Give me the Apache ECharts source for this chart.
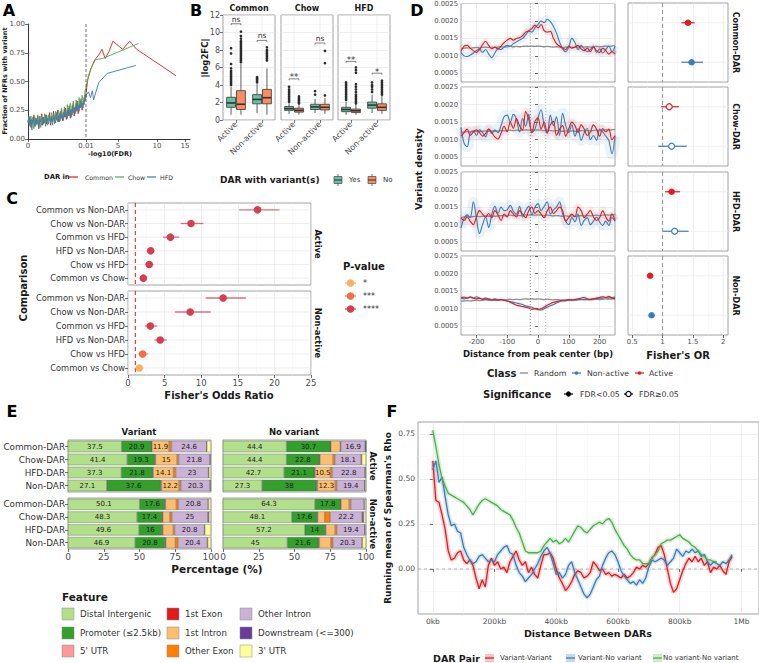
<!DOCTYPE html>
<html>
<head>
<meta charset="utf-8">
<title>DAR variant figure</title>
<script src="https://cdn.jsdelivr.net/npm/echarts@6/dist/echarts.min.js"></script>
<style>
html,body{margin:0;padding:0;background:#ffffff;}
#chart{width:759px;height:663px;}
</style>
</head>
<body>
<div id="chart"></div>
<script>
// ======================= DATA =======================
// ---- Panel A ----
const aTickValues = [0, 0.01, 5, 10, 15];
const aTickLabels = ['0', '0.01', '5', '10', '15'];
const aLegend = ['Common', 'Chow', 'HFD'];
const aNoiseCommon = [0.16,0.12,0.19,0.10,0.17,0.14,0.21,0.11,0.18,0.13,
 0.20,0.09,0.17,0.15,0.22,0.12,0.19,0.14,0.21,0.13,
 0.18,0.16,0.23,0.12,0.20,0.15,0.24,0.14,0.21,0.17,
 0.25,0.15,0.22,0.18,0.26,0.16,0.23,0.19,0.27,0.17,
 0.25,0.20,0.29,0.18,0.26,0.22,0.31,0.20,0.28,0.24,
 0.33,0.22,0.30,0.27,0.35,0.25,0.33,0.30,0.38,0.36];
const aNoiseChow = [0.14,0.18,0.11,0.20,0.13,0.16,0.09,0.19,0.15,0.12,
 0.21,0.14,0.17,0.10,0.19,0.16,0.13,0.22,0.15,0.18,
 0.12,0.21,0.17,0.14,0.23,0.16,0.19,0.13,0.24,0.18,
 0.15,0.25,0.19,0.16,0.27,0.20,0.17,0.28,0.21,0.19,
 0.30,0.22,0.20,0.31,0.24,0.21,0.33,0.26,0.23,0.34,
 0.28,0.25,0.36,0.30,0.27,0.38,0.33,0.30,0.42,0.45];
const aNoiseHFD = [0.15,0.20,0.12,0.17,0.08,0.19,0.14,0.11,0.18,0.13,
 0.16,0.10,0.20,0.15,0.12,0.19,0.14,0.17,0.11,0.21,
 0.16,0.13,0.20,0.15,0.18,0.12,0.22,0.17,0.14,0.23,
 0.16,0.20,0.15,0.24,0.18,0.21,0.16,0.26,0.19,0.23,
 0.18,0.27,0.21,0.25,0.19,0.29,0.23,0.27,0.22,0.31,
 0.25,0.29,0.24,0.33,0.28,0.31,0.27,0.36,0.33,0.38];
const aTailCommon = [[0.01,0.40],[0.3,0.52],[0.7,0.60],[1.4,0.69],[2.0,0.73],[2.5,0.78],[3.0,0.70],[3.6,0.76],[4.2,0.85],[5.6,0.78],[6.5,0.85],[7.4,0.78],[13.4,0.55]];
const aTailChow = [[0.01,0.45],[0.4,0.55],[0.9,0.63],[1.5,0.69],[2.6,0.70],[7.6,0.83]];
const aTailHFD = [[0.01,0.38],[0.4,0.41],[0.7,0.36],[1.0,0.42],[1.2,0.34],[1.5,0.40],[2.0,0.49],[3.3,0.57],[7.3,0.64]];

// ---- Panel B ---- [facet][class] = [lowerWhisker, Q1, median, Q3, upperWhisker]
const bFacets = ['Common', 'Chow', 'HFD'];
const bClasses = ['Active', 'Non-active'];
const bVariantGroups = ['Yes', 'No'];
const bYesStats = [
 [[0.6,1.45,1.95,2.6,3.8],[0.8,1.85,2.35,2.9,4.1]],
 [[0.7,1.1,1.3,1.55,2.0],[0.8,1.2,1.5,1.8,2.4]],
 [[0.6,0.95,1.2,1.45,2.1],[0.8,1.35,1.7,2.05,2.9]]];
const bNoStats = [
 [[0.6,1.2,1.8,3.35,6.4],[0.6,1.85,2.55,3.5,5.9]],
 [[0.6,0.9,1.1,1.35,1.8],[0.7,1.15,1.45,1.8,2.5]],
 [[0.6,0.85,1.05,1.25,1.8],[0.7,1.1,1.45,1.85,2.8]]];
const bYesOutliers = [
 [[4.0,4.2,4.4,4.6,4.8,5.0,5.2,5.4,5.6,5.9,6.4,7.6,8.2],[4.3,4.45,4.6,4.75,4.9]],
 [[2.1,2.3,2.5,2.7,2.9,3.1,3.3,3.5,3.8],[2.9,3.3]],
 [[2.3,2.5,2.7,2.9,3.1,3.3,3.5,3.7,3.9,4.1,4.3],[3.2,3.5,3.8,4.0,4.3]]];
const bNoOutliers = [
 [[6.6,6.8,7.0,7.2,7.4,7.6,7.8,8.0,8.2,8.4,8.6,8.8,9.0,9.3,9.6,10.1],[6.8,7.0,7.2,7.4,7.6,7.8,8.0,8.3]],
 [[1.9,2.05,2.2,2.35,2.5,2.7],[2.8,6.5,7.9]],
 [[1.9,2.1,2.3,2.5,2.7,2.9,3.2,3.5,3.8,4.1,5.4,5.7,6.0],[2.9,3.1,3.3,3.5,3.7,3.9,4.1,4.3,4.5]]];
const bSigY = [[11.0,9.1],[4.7,8.8],[6.7,5.35]];
const bSigLabels = [['ns','ns'],['**','ns'],['**','*']];

// ---- Panel C ----
const cComparisons = ['Common vs Non-DAR','Chow vs Non-DAR','Common vs HFD','HFD vs Non-DAR','Chow vs HFD','Common vs Chow'];
const cActiveOR = [17.7, 8.6, 5.8, 3.1, 2.9, 2.1];
const cActiveLo = [15.2, 7.2, 4.8, 2.55, 2.4, 1.6];
const cActiveHi = [20.7, 10.3, 7.0, 3.6, 3.5, 2.5];
const cActiveP = ['****','****','****','****','****','****'];
const cNonActiveOR = [13.0, 8.5, 3.05, 4.4, 2.0, 1.55];
const cNonActiveLo = [10.6, 6.4, 2.3, 3.6, 1.4, 1.0];
const cNonActiveHi = [16.1, 11.3, 4.0, 5.3, 2.75, 2.1];
const cNonActiveP = ['****','****','****','****','***','*'];
const cPLevels = ['*', '***', '****'];

// ---- Panel D ----
const dPositionBp = [-250,-240,-230,-220,-210,-200,-190,-180,-170,-160,-150,-140,-130,-120,-110,-100,-90,-80,-70,-60,-50,-40,-30,-20,-10,0,10,20,30,40,50,60,70,80,90,100,110,120,130,140,150,160,170,180,190,200,210,220,230,240,250];
const dFacets = ['Common-DAR','Chow-DAR','HFD-DAR','Non-DAR'];
const dClasses = ['Random','Non-active','Active'];
const dRandom = [0.00121,0.00122,0.00123,0.00122,0.00123,0.00124,0.00123,0.00124,0.00125,0.00124,
 0.00125,0.00124,0.00125,0.00126,0.00125,0.00126,0.00127,0.00126,0.00127,0.00126,
 0.00127,0.00128,0.00127,0.00128,0.00127,0.00128,0.00127,0.00126,0.00127,0.00126,
 0.00125,0.00126,0.00125,0.00124,0.00125,0.00124,0.00125,0.00124,0.00125,0.00126,
 0.00125,0.00126,0.00125,0.00126,0.00127,0.00126,0.00127,0.00128,0.00127,0.00128,
 0.00129];
const dNonActive = [
 [0.00110,0.00100,0.00098,0.00102,0.00108,0.00115,0.00120,0.00110,0.00118,0.00105,
  0.00095,0.00108,0.00120,0.00118,0.00125,0.00130,0.00128,0.00135,0.00140,0.00145,
  0.00150,0.00160,0.00170,0.00168,0.00180,0.00190,0.00200,0.00195,0.00205,0.00198,
  0.00185,0.00165,0.00140,0.00120,0.00112,0.00125,0.00150,0.00138,0.00118,0.00130,
  0.00120,0.00112,0.00118,0.00128,0.00110,0.00120,0.00108,0.00118,0.00128,0.00112,
  0.00128],
 [0.00135,0.00090,0.00080,0.00120,0.00125,0.00112,0.00128,0.00120,0.00108,0.00130,
  0.00118,0.00128,0.00120,0.00140,0.00165,0.00170,0.00150,0.00172,0.00158,0.00122,
  0.00160,0.00138,0.00172,0.00120,0.00130,0.00162,0.00185,0.00140,0.00118,0.00170,
  0.00140,0.00165,0.00112,0.00175,0.00140,0.00120,0.00142,0.00110,0.00132,0.00098,
  0.00120,0.00132,0.00100,0.00112,0.00098,0.00130,0.00122,0.00110,0.00098,0.00060,
  0.00110],
 [0.00090,0.00118,0.00128,0.00120,0.00165,0.00120,0.00075,0.00100,0.00122,0.00092,
  0.00130,0.00152,0.00132,0.00150,0.00140,0.00142,0.00155,0.00138,0.00130,0.00152,
  0.00122,0.00140,0.00152,0.00128,0.00150,0.00160,0.00140,0.00152,0.00165,0.00130,
  0.00142,0.00150,0.00165,0.00130,0.00110,0.00100,0.00120,0.00108,0.00130,0.00098,
  0.00112,0.00120,0.00100,0.00110,0.00122,0.00108,0.00098,0.00110,0.00098,0.00120,
  0.00110],
 [0.00130,0.00128,0.00130,0.00132,0.00130,0.00134,0.00130,0.00128,0.00130,0.00128,
  0.00126,0.00128,0.00126,0.00125,0.00124,0.00122,0.00120,0.00118,0.00116,0.00114,
  0.00112,0.00108,0.00106,0.00104,0.00100,0.00098,0.00096,0.00100,0.00104,0.00108,
  0.00112,0.00116,0.00120,0.00122,0.00122,0.00124,0.00124,0.00125,0.00126,0.00126,
  0.00127,0.00126,0.00127,0.00128,0.00128,0.00130,0.00130,0.00132,0.00130,0.00132,
  0.00133]];
const dActive = [
 [0.00112,0.00128,0.00130,0.00122,0.00115,0.00110,0.00118,0.00132,0.00142,0.00130,
  0.00120,0.00125,0.00120,0.00128,0.00138,0.00145,0.00150,0.00145,0.00150,0.00152,
  0.00158,0.00168,0.00172,0.00178,0.00188,0.00180,0.00190,0.00172,0.00168,0.00170,
  0.00150,0.00135,0.00128,0.00122,0.00118,0.00128,0.00122,0.00125,0.00130,0.00120,
  0.00115,0.00122,0.00112,0.00125,0.00115,0.00110,0.00122,0.00115,0.00105,0.00112,
  0.00105],
 [0.00110,0.00120,0.00130,0.00112,0.00122,0.00128,0.00120,0.00110,0.00118,0.00130,
  0.00120,0.00108,0.00102,0.00118,0.00138,0.00122,0.00150,0.00132,0.00160,0.00140,
  0.00128,0.00180,0.00158,0.00120,0.00152,0.00162,0.00130,0.00150,0.00120,0.00142,
  0.00152,0.00112,0.00130,0.00140,0.00110,0.00132,0.00150,0.00140,0.00120,0.00142,
  0.00130,0.00112,0.00122,0.00142,0.00130,0.00110,0.00132,0.00122,0.00130,0.00100,
  0.00112],
 [0.00120,0.00112,0.00122,0.00110,0.00100,0.00122,0.00140,0.00130,0.00122,0.00132,
  0.00120,0.00140,0.00128,0.00112,0.00130,0.00122,0.00140,0.00130,0.00122,0.00140,
  0.00130,0.00120,0.00140,0.00150,0.00132,0.00140,0.00130,0.00120,0.00140,0.00150,
  0.00132,0.00140,0.00150,0.00140,0.00110,0.00120,0.00130,0.00122,0.00150,0.00140,
  0.00120,0.00130,0.00140,0.00122,0.00112,0.00120,0.00140,0.00122,0.00110,0.00130,
  0.00112],
 [0.00132,0.00133,0.00130,0.00134,0.00130,0.00128,0.00130,0.00126,0.00128,0.00126,
  0.00124,0.00126,0.00124,0.00126,0.00124,0.00122,0.00118,0.00114,0.00110,0.00108,
  0.00106,0.00104,0.00102,0.00098,0.00100,0.00098,0.00100,0.00104,0.00110,0.00114,
  0.00118,0.00120,0.00122,0.00124,0.00124,0.00126,0.00125,0.00126,0.00128,0.00130,
  0.00132,0.00128,0.00126,0.00128,0.00130,0.00132,0.00134,0.00132,0.00135,0.00130,
  0.00128]];
const dOrActive = [1.42, 1.11, 1.15, 0.795];
const dOrActiveLo = [1.31, 0.975, 1.04, 0.785];
const dOrActiveHi = [1.53, 1.27, 1.29, 0.805];
const dOrActiveSig = [true, false, true, true];
const dOrNonActive = [1.48, 1.15, 1.20, 0.82];
const dOrNonActiveLo = [1.31, 0.93, 1.01, 0.81];
const dOrNonActiveHi = [1.67, 1.40, 1.43, 0.83];
const dOrNonActiveSig = [true, false, false, true];

// ---- Panel E ---- rows follow eDARs, columns follow eFeatures
const eDARs = ['Common-DAR','Chow-DAR','HFD-DAR','Non-DAR'];
const eFeatures = ['Distal Intergenic','Promoter (\u22642.5kb)',"5' UTR",'1st Exon','1st Intron','Other Exon','Other Intron','Downstream (<=300)',"3' UTR"];
const eVariantActive = [
 [37.5,20.9,0.1,0.2,11.9,1.8,24.6,0.1,2.9],
 [41.4,19.3,0.2,0.3,15.0,1.2,21.8,0.3,0.5],
 [37.3,21.8,0.2,0.3,14.1,1.6,23.0,0.2,1.5],
 [27.1,37.6,0.3,0.4,12.2,1.4,20.3,0.2,0.5]];
const eNoVariantActive = [
 [44.4,30.7,0.1,0.2,6.6,0.5,16.9,0.6,0.0],
 [44.4,22.8,0.2,0.5,9.0,1.5,18.1,0.5,3.0],
 [42.7,21.1,0.3,0.4,10.5,1.5,22.8,0.2,0.5],
 [27.3,38.0,0.3,0.5,12.3,1.2,19.4,0.2,0.8]];
const eVariantNonActive = [
 [50.1,17.6,0.2,0.3,7.5,1.5,20.8,0.2,1.8],
 [48.3,17.4,0.2,0.5,4.8,1.5,25.0,0.8,1.5],
 [49.6,16.0,0.3,0.5,7.2,1.0,20.8,0.3,4.3],
 [46.9,20.8,0.3,0.5,6.5,2.0,20.4,0.3,2.3]];
const eNoVariantNonActive = [
 [64.3,17.8,0.2,0.3,5.6,1.2,9.3,0.3,1.0],
 [48.1,17.6,0.2,0.3,4.9,3.9,22.2,1.2,1.6],
 [57.2,14.0,0.3,0.4,6.5,1.3,19.4,0.2,0.7],
 [45.0,21.6,0.3,0.5,8.0,1.5,20.3,0.3,2.5]];

// ---- Panel F ----
const fDistanceKb = [0,10,20,30,40,50,60,70,80,90,
 100,110,120,130,140,150,160,170,180,190,
 200,210,220,230,240,250,260,270,280,290,
 300,310,320,330,340,350,360,370,380,390,
 400,410,420,430,440,450,460,470,480,490,
 500,510,520,530,540,550,560,570,580,590,
 600,610,620,630,640,650,660,670,680,690,
 700,710,720,730,740,750,760,770,780,790,
 800,810,820,830,840,850,860,870,880,890,
 900,910,920,930,940,950,960,970];
const fPairs = ['Variant-Variant','Variant-No variant','No variant-No variant'];
const fVariantVariant = [0.60,0.38,0.37,0.30,0.22,0.10,0.05,0.06,0.09,0.10,
 0.05,0.03,0.05,0.02,-0.05,-0.11,-0.06,-0.10,0.02,0.06,
 0.02,0.04,0.00,0.01,-0.02,0.04,0.07,0.10,0.05,0.02,
 0.04,-0.02,0.01,-0.03,-0.05,0.02,0.08,0.08,0.09,0.06,
 0.00,-0.05,-0.08,-0.12,-0.10,-0.07,-0.03,-0.01,-0.02,-0.05,
 -0.04,-0.02,0.04,0.02,-0.01,0.00,-0.03,-0.02,-0.04,-0.03,
 -0.04,-0.05,-0.03,-0.05,-0.04,-0.02,0.01,0.00,0.02,0.01,
 0.03,0.06,0.08,0.12,0.13,0.08,0.00,-0.08,-0.13,-0.11,
 -0.06,-0.01,0.03,0.06,0.04,0.07,0.04,0.06,0.02,0.04,
 -0.02,0.01,0.00,0.02,-0.01,-0.03,0.04,0.07];
const fVariantNoVariant = [0.55,0.60,0.48,0.51,0.40,0.30,0.24,0.25,0.21,0.20,
 0.12,0.08,0.05,0.03,0.04,0.07,0.08,0.06,0.04,0.05,
 0.04,0.08,0.10,0.12,0.13,0.09,0.08,0.02,-0.02,-0.04,
 -0.07,-0.05,-0.03,0.00,0.03,0.07,0.10,0.12,0.09,0.03,
 -0.03,-0.02,-0.05,-0.03,0.02,0.04,-0.02,-0.06,-0.10,-0.14,
 -0.16,-0.14,-0.10,-0.06,-0.04,0.02,0.06,0.09,0.10,0.08,
 0.04,-0.01,-0.04,-0.06,-0.08,-0.07,-0.09,-0.06,-0.08,-0.05,
 0.01,0.05,0.04,0.05,0.06,0.05,0.02,0.04,0.06,0.11,
 0.09,0.07,0.10,0.09,0.11,0.09,0.10,0.07,0.08,0.04,
 0.02,0.04,0.03,0.02,0.04,0.03,0.05,0.08];
const fNoVariantNoVariant = [0.77,0.68,0.58,0.50,0.46,0.42,0.41,0.40,0.39,0.38,
 0.37,0.35,0.33,0.30,0.33,0.36,0.38,0.39,0.38,0.37,
 0.36,0.35,0.33,0.32,0.31,0.30,0.27,0.23,0.20,0.15,
 0.10,0.09,0.09,0.09,0.09,0.10,0.13,0.15,0.17,0.15,
 0.16,0.14,0.15,0.17,0.15,0.18,0.21,0.24,0.23,0.21,
 0.20,0.22,0.24,0.25,0.26,0.25,0.27,0.28,0.26,0.22,
 0.19,0.16,0.13,0.11,0.08,0.06,0.05,0.05,0.03,0.03,
 0.03,0.06,0.08,0.10,0.14,0.15,0.16,0.16,0.17,0.18,
 0.19,0.17,0.16,0.15,0.13,0.12,0.10,0.08,0.07,0.05,
 0.05,0.04,0.04];

// ======================= CHART =======================
const FF = 'DejaVu Sans';
const fontStr = (size, bold) => (bold ? 'bold ' : '') + size + 'px "DejaVu Sans", sans-serif';
const RED = '#e41a1c', BLUE = '#377eb8', GREEN = '#4daf4a';
const BOX_COLORS = ['#66c2a5', '#fc8d62'];
const P_COLORS = ['#fdae61', '#f46d43', '#d53e4f'];
const E_COLORS = ['#b2df8a','#33a02c','#fb9a99','#e31a1c','#fdbf6f','#ff7f00','#cab2d6','#6a3d9a','#ffff99'];

const grid = [], xAxis = [], yAxis = [], series = [], gfx = [];
const BORDER = {show:true, borderColor:'#8c8c8c', borderWidth:0.8, backgroundColor:'rgba(255,255,255,0)'};
function addGrid(pos, bordered) {
  grid.push(Object.assign({containLabel:false}, pos, bordered ? BORDER : {show:false}));
  return grid.length - 1;
}
function label(size, show, extra) {
  return Object.assign({show: show !== false, fontSize:size, color:'#4d4d4d', fontFamily:FF, margin:3}, extra || {});
}
function tick(show, extra) {
  return Object.assign({show: show !== false, length:3, lineStyle:{color:'#333333', width:0.7}}, extra || {});
}
const SPLIT = {show:true, lineStyle:{color:'#e6e6e6', width:0.7}};
const MINOR = {show:true, lineStyle:{color:'#f3f3f3', width:0.5}};
const NOSPLIT = {show:false};
const NOLINE = {show:false};

function T(str, x, y, o) {
  o = o || {};
  const al = o.align || 'center', va = o.valign || 'middle';
  gfx.push({type:'text', x:x, y:y, rotation:o.rot || 0, z:100, silent:true,
    style:{text:str, fill:o.color || '#1a1a1a', font:fontStr(o.size || 9, o.bold),
      textAlign:al, textVerticalAlign:va, align:al, verticalAlign:va}});
}
function L(x1, y1, x2, y2, color, w, dash) {
  gfx.push({type:'line', z:100, silent:true, shape:{x1:x1, y1:y1, x2:x2, y2:y2}, style:{stroke:color, lineWidth:w || 1, lineDash:dash || null}});
}
function Circ(cx, cy, r, fill, stroke, w) {
  gfx.push({type:'circle', z:101, silent:true, shape:{cx:cx, cy:cy, r:r}, style:{fill:fill, stroke:stroke || null, lineWidth:w || 0}});
}
function Rect(x, y, w, h, fill, stroke, lw) {
  gfx.push({type:'rect', z:100, silent:true, shape:{x:x, y:y, width:w, height:h}, style:{fill:fill, stroke:stroke || null, lineWidth:lw || 0}});
}
function vLine(gi, xv, yref, style, z) {
  series.push({type:'custom', xAxisIndex:gi, yAxisIndex:gi, silent:true, z:z || 1, data:[[xv, yref]],
    renderItem:function (p, api) {
      const cs = p.coordSys; const x = api.coord([api.value(0), api.value(1)])[0];
      return {type:'line', shape:{x1:x, y1:cs.y, x2:x, y2:cs.y + cs.height}, style:style};
    }});
}
function hLine(gi, xref, yv, style, z) {
  series.push({type:'custom', xAxisIndex:gi, yAxisIndex:gi, silent:true, z:z || 1, data:[[xref, yv]],
    renderItem:function (p, api) {
      const cs = p.coordSys; const y = api.coord([api.value(0), api.value(1)])[1];
      return {type:'line', shape:{x1:cs.x, y1:y, x2:cs.x + cs.width, y2:y}, style:style};
    }});
}

// ---------- Panel A ----------
const A_DISP = [0, 58, 90, 129, 157];
function aPos(v) {
  const b = aTickValues, d = A_DISP;
  for (let i = 1; i < b.length; i++) if (v <= b[i]) return d[i-1] + (v - b[i-1]) / (b[i] - b[i-1]) * (d[i] - d[i-1]);
  const n = b.length; return d[n-1] + (v - b[n-1]) / (b[n-1] - b[n-2]) * (d[n-1] - d[n-2]);
}
const gA = addGrid({left:28, top:24, width:162, height:115}, false);
xAxis.push({gridIndex:gA, type:'value', min:0, max:162,
  axisLine:{show:true, lineStyle:{color:'#000', width:0.8}},
  axisTick:tick(true, {customValues:A_DISP}),
  axisLabel:label(7, true, {customValues:A_DISP, formatter:function (v) { const i = A_DISP.indexOf(v); return i >= 0 ? aTickLabels[i] : ''; }}),
  splitLine:NOSPLIT});
yAxis.push({gridIndex:gA, type:'value', min:0, max:1, interval:0.25,
  axisLine:{show:true, lineStyle:{color:'#000', width:0.8}}, axisTick:tick(),
  axisLabel:label(7, true, {formatter:function (v) { return v.toFixed(2); }}), splitLine:NOSPLIT});
[[aNoiseCommon, aTailCommon, RED], [aNoiseChow, aTailChow, GREEN], [aNoiseHFD, aTailHFD, BLUE]].forEach(function (s, k) {
  const noise = s[0], tail = s[1];
  const pts = noise.map(function (y, i) { return [aPos(i / (noise.length - 1) * 0.01), y]; })
    .concat(tail.map(function (p) { return [aPos(p[0]), p[1]]; }));
  series.push({type:'line', name:aLegend[k], xAxisIndex:gA, yAxisIndex:gA, data:pts, showSymbol:false, silent:true, z:3,
    lineStyle:{color:s[2], width:0.9}});
});
vLine(gA, aPos(0.01), 0.5, {stroke:'#333', lineWidth:0.7, lineDash:[3,2]}, 4);
T('-log10(FDR)', 110, 154, {bold:true, size:6.5});
T('Fraction of NFRs with variant', 5, 81, {bold:true, size:6.5, rot:Math.PI / 2});
T('DAR in', 44, 177, {bold:true, size:6.8, align:'left'});
[[RED, 69, 85], [GREEN, 115, 128], [BLUE, 147, 160]].forEach(function (l, k) {
  L(l[1], 177, l[1] + 9, 177, l[0], 1.2);
  T(aLegend[k], l[2], 177, {size:6.2, align:'left', color:'#333'});
});

// ---------- Panel B ----------
const B_LEFTS = [223, 281, 338];
function boxRender(g) {
  return function (p, api) {
    const c = api.value(0); const band = api.size([1, 0])[0];
    const x = api.coord([c, 0])[0] + (g === 0 ? -1 : 1) * band * 0.19; const w = band * 0.34;
    const y = function (i) { return api.coord([c, api.value(i)])[1]; };
    const ls = {stroke:'#333', lineWidth:0.8};
    return {type:'group', children:[
      {type:'line', shape:{x1:x, y1:y(5), x2:x, y2:y(4)}, style:ls},
      {type:'line', shape:{x1:x, y1:y(2), x2:x, y2:y(1)}, style:ls},
      {type:'rect', shape:{x:x - w / 2, y:y(4), width:w, height:y(2) - y(4)}, style:{fill:BOX_COLORS[g], stroke:'#333', lineWidth:0.8}},
      {type:'line', shape:{x1:x - w / 2, y1:y(3), x2:x + w / 2, y2:y(3)}, style:{stroke:'#333', lineWidth:1.6}}
    ]};
  };
}
function outRender(g) {
  return function (p, api) {
    const c = api.value(0); const band = api.size([1, 0])[0];
    const pt = api.coord([c, api.value(1)]);
    return {type:'circle', shape:{cx:pt[0] + (g === 0 ? -1 : 1) * band * 0.19, cy:pt[1], r:1.35}, style:{fill:'#2b2b2b'}};
  };
}
bFacets.forEach(function (fname, fi) {
  const gi = addGrid({left:B_LEFTS[fi], top:15, width:52, height:105}, true);
  xAxis.push({gridIndex:gi, type:'category', data:bClasses, axisLine:NOLINE,
    axisTick:tick(true, {alignWithLabel:true}), axisLabel:label(8, true, {rotate:45, interval:0}), splitLine:NOSPLIT});
  yAxis.push({gridIndex:gi, type:'value', min:0, max:12, interval:2, axisLine:NOLINE,
    axisTick:tick(fi === 0), axisLabel:label(8, fi === 0), splitLine:SPLIT,
    minorTick:{show:false, splitNumber:2}, minorSplitLine:MINOR});
  bClasses.forEach(function (_, ci) { vLine(gi, ci, 0, {stroke:'#e6e6e6', lineWidth:0.7}, 1); });
  [[bYesStats, bYesOutliers, 0], [bNoStats, bNoOutliers, 1]].forEach(function (s) {
    const st = s[0], out = s[1], g = s[2];
    series.push({type:'custom', name:bVariantGroups[g], xAxisIndex:gi, yAxisIndex:gi, z:3, silent:true,
      data:st[fi].map(function (v, ci) { return [ci].concat(v); }), renderItem:boxRender(g)});
    const od = [];
    out[fi].forEach(function (arr, ci) { arr.forEach(function (v) { od.push([ci, v]); }); });
    series.push({type:'custom', xAxisIndex:gi, yAxisIndex:gi, z:4, silent:true, data:od, renderItem:outRender(g)});
  });
  series.push({type:'custom', xAxisIndex:gi, yAxisIndex:gi, z:5, silent:true,
    data:bSigY[fi].map(function (y, ci) { return [ci, y]; }),
    renderItem:function (p, api) {
      const c = api.value(0); const band = api.size([1, 0])[0]; const pt = api.coord([c, api.value(1)]);
      const x1 = pt[0] - band * 0.19, x2 = pt[0] + band * 0.19, yy = pt[1];
      const lab = bSigLabels[fi][p.dataIndex];
      return {type:'group', children:[
        {type:'polyline', shape:{points:[[x1, yy + 1.5], [x1, yy], [x2, yy], [x2, yy + 1.5]]}, style:{stroke:'#333', lineWidth:0.6, fill:null}},
        {type:'text', x:pt[0], y:yy + (lab === 'ns' ? -0.5 : 3), style:{text:lab, fill:'#333', font:fontStr(lab === 'ns' ? 7.5 : 8.5),
          textAlign:'center', textVerticalAlign:'bottom', align:'center', verticalAlign:'bottom'}}
      ]};
    }});
  T(fname, B_LEFTS[fi] + 26, 8, {bold:true, size:8});
});
T('|log2FC|', 205, 58, {bold:true, size:8.5, rot:Math.PI / 2});
T('DAR with variant(s)', 220, 180, {bold:true, size:9, align:'left'});
[[334, 0], [368, 1]].forEach(function (it) {
  const x = it[0];
  L(x + 4, 174, x + 4, 186, '#333', 0.7);
  Rect(x, 176.5, 8, 7, BOX_COLORS[it[1]], '#333', 0.6);
  L(x, 180, x + 8, 180, '#333', 1);
  T(bVariantGroups[it[1]], x + 15, 180, {size:7, align:'left', color:'#333'});
});

// ---------- Panel C ----------
const C_TOPS = [203, 291], C_HS = [82, 84];
[[cActiveOR, cActiveLo, cActiveHi, cActiveP], [cNonActiveOR, cNonActiveLo, cNonActiveHi, cNonActiveP]].forEach(function (s, k) {
  const or = s[0], lo = s[1], hi = s[2], pv = s[3];
  const gi = addGrid({left:128, top:C_TOPS[k], width:183, height:C_HS[k]}, true);
  xAxis.push({gridIndex:gi, type:'value', min:0, max:25, interval:5, axisLine:NOLINE,
    axisTick:tick(k === 1), axisLabel:label(8.5, k === 1), splitLine:SPLIT,
    minorTick:{show:false, splitNumber:2}, minorSplitLine:MINOR});
  yAxis.push({gridIndex:gi, type:'category', data:cComparisons, inverse:true, axisLine:NOLINE,
    axisTick:tick(true, {alignWithLabel:true}), axisLabel:label(8.3, true, {color:'#333'}), splitLine:NOSPLIT});
  cComparisons.forEach(function (_, i) { hLine(gi, 0, i, {stroke:'#e6e6e6', lineWidth:0.7}, 1); });
  vLine(gi, 1, 0, {stroke:RED, lineWidth:1, lineDash:[4,3]}, 2);
  series.push({type:'custom', xAxisIndex:gi, yAxisIndex:gi, z:5, silent:true,
    data:or.map(function (v, i) { return [v, i, lo[i], hi[i], cPLevels.indexOf(pv[i])]; }),
    renderItem:function (p, api) {
      const pt = api.coord([api.value(0), api.value(1)]);
      const xl = api.coord([api.value(2), api.value(1)])[0], xh = api.coord([api.value(3), api.value(1)])[0];
      const col = P_COLORS[api.value(4)];
      return {type:'group', children:[
        {type:'line', shape:{x1:xl, y1:pt[1], x2:xh, y2:pt[1]}, style:{stroke:col, lineWidth:1.3, opacity:0.72}},
        {type:'circle', shape:{cx:pt[0], cy:pt[1], r:3.8}, style:{fill:col}}
      ]};
    }});
});
T("Fisher's Odds Ratio", 219, 395, {bold:true, size:10});
T('Comparison', 23, 288, {bold:true, size:10, rot:Math.PI / 2});
T('Active', 318, 244, {bold:true, size:8.3, rot:-Math.PI / 2});
T('Non-active', 318, 333, {bold:true, size:8.3, rot:-Math.PI / 2});
T('P-value', 343, 266, {bold:true, size:10, align:'left'});
cPLevels.forEach(function (lv, i) {
  const y = 283 + i * 13;
  L(345, y, 356, y, P_COLORS[i], 1.2);
  Circ(350.5, y, 3.8, P_COLORS[i]);
  T(lv, 363, y, {size:8, align:'left', color:'#333'});
});

// ---------- Panel D ----------
const D_TOPS = [3, 87, 172, 256], D_H = 79;
const D_XT = [-200, -100, 0, 100, 200], D_YT = [0.0005, 0.001, 0.0015, 0.002, 0.0025];
const D_RIB = [[8, 6], [11, 8], [10, 8], [3, 3]];
dFacets.forEach(function (name, fi) {
  const bottom = fi === 3;
  const gi = addGrid({left:461, top:D_TOPS[fi], width:154, height:D_H}, true);
  xAxis.push({gridIndex:gi, type:'value', min:-250, max:250, interval:50, axisLine:NOLINE,
    axisTick:tick(bottom, {customValues:D_XT}), axisLabel:label(7, bottom, {customValues:D_XT}), splitLine:SPLIT});
  yAxis.push({gridIndex:gi, type:'value', min:0.00025, max:0.0025, interval:0.00025, axisLine:NOLINE,
    axisTick:tick(true, {customValues:D_YT}),
    axisLabel:label(6.8, true, {customValues:D_YT, formatter:function (v) { return v.toFixed(4); }}), splitLine:SPLIT});
  const toPts = function (arr) { return arr.map(function (v, i) { return [dPositionBp[i], v]; }); };
  series.push({type:'line', xAxisIndex:gi, yAxisIndex:gi, data:toPts(dNonActive[fi]), showSymbol:false, silent:true, smooth:0.35, z:2,
    lineStyle:{color:BLUE, width:D_RIB[fi][0], opacity:0.1, cap:'butt'}});
  series.push({type:'line', xAxisIndex:gi, yAxisIndex:gi, data:toPts(dActive[fi]), showSymbol:false, silent:true, smooth:0.35, z:2,
    lineStyle:{color:RED, width:D_RIB[fi][1], opacity:0.08, cap:'butt'}});
  vLine(gi, -25, 0.001, {stroke:'#555', lineWidth:0.7, lineDash:[1,2]}, 2);
  vLine(gi, 25, 0.001, {stroke:'#aaa', lineWidth:0.8, lineDash:[1,2]}, 2);
  series.push({type:'line', name:dClasses[0], xAxisIndex:gi, yAxisIndex:gi, data:toPts(dRandom), showSymbol:false, silent:true, smooth:0.35, z:3,
    lineStyle:{color:'#8c8c8c', width:1.3}});
  series.push({type:'line', name:dClasses[1], xAxisIndex:gi, yAxisIndex:gi, data:toPts(dNonActive[fi]), showSymbol:false, silent:true, smooth:0.35, z:4,
    lineStyle:{color:BLUE, width:1.1}});
  series.push({type:'line', name:dClasses[2], xAxisIndex:gi, yAxisIndex:gi, data:toPts(dActive[fi]), showSymbol:false, silent:true, smooth:0.35, z:5,
    lineStyle:{color:RED, width:1.1}});

  const gj = addGrid({left:628, top:D_TOPS[fi], width:100, height:D_H}, true);
  xAxis.push({gridIndex:gj, type:'value', min:0.43, max:2.08, splitNumber:3, axisLine:NOLINE,
    axisTick:tick(bottom, {customValues:[0.5, 1, 1.5, 2]}), axisLabel:label(7, bottom, {customValues:[0.5, 1, 1.5, 2]}),
    splitLine:SPLIT, minorTick:{show:false, splitNumber:2}, minorSplitLine:MINOR});
  yAxis.push({gridIndex:gj, type:'category', data:['Non-active', 'Active'], axisLine:NOLINE, axisTick:{show:false}, axisLabel:{show:false}, splitLine:NOSPLIT});
  [0, 1].forEach(function (i) { hLine(gj, 1, i, {stroke:'#ececec', lineWidth:0.7}, 1); });
  vLine(gj, 1, 0, {stroke:'#9a9a9a', lineWidth:1.1, lineDash:[4,3]}, 2);
  series.push({type:'custom', xAxisIndex:gj, yAxisIndex:gj, z:5, silent:true,
    data:[[dOrNonActive[fi], 0, dOrNonActiveLo[fi], dOrNonActiveHi[fi], dOrNonActiveSig[fi] ? 1 : 0],
          [dOrActive[fi], 1, dOrActiveLo[fi], dOrActiveHi[fi], dOrActiveSig[fi] ? 1 : 0]],
    renderItem:function (p, api) {
      const pt = api.coord([api.value(0), api.value(1)]);
      const xl = api.coord([api.value(2), api.value(1)])[0], xh = api.coord([api.value(3), api.value(1)])[0];
      const col = api.value(1) === 1 ? RED : BLUE; const filled = api.value(4) === 1;
      return {type:'group', children:[
        {type:'line', shape:{x1:xl, y1:pt[1], x2:xh, y2:pt[1]}, style:{stroke:col, lineWidth:1.2}},
        {type:'circle', shape:{cx:pt[0], cy:pt[1], r:filled ? 3.3 : 3}, style:filled ? {fill:col} : {fill:'#fff', stroke:col, lineWidth:1.2}}
      ]};
    }});
  T(name, 735, D_TOPS[fi] + D_H / 2, {bold:true, size:8, rot:-Math.PI / 2});
});
T('Variant density', 418, 169, {bold:true, size:9.5, rot:Math.PI / 2});
T('Distance from peak center (bp)', 538, 354, {bold:true, size:8.5});
T("Fisher's OR", 678, 355, {bold:true, size:10});
T('Class', 487, 373, {bold:true, size:10, align:'left'});
L(520, 373, 528, 373, '#8c8c8c', 1.3); T(dClasses[0], 534, 373, {size:7.8, align:'left', color:'#333'});
L(572, 373, 581, 373, BLUE, 1.2); Circ(576.5, 373, 1.8, BLUE); T(dClasses[1], 587, 373, {size:7.8, align:'left', color:'#333'});
L(635, 373, 644, 373, RED, 1.2); Circ(639.5, 373, 1.8, RED); T(dClasses[2], 649, 373, {size:7.8, align:'left', color:'#333'});
T('Significance', 483, 394, {bold:true, size:10, align:'left'});
L(564, 394, 573, 394, '#000', 1.2); Circ(568.5, 394, 2.6, '#000'); T('FDR<0.05', 580, 394, {size:7.8, align:'left', color:'#333'});
L(624, 394, 633, 394, '#000', 1.2); Circ(628.5, 394, 2.6, '#fff', '#000', 1.2); T('FDR\u22650.05', 639, 394, {size:7.8, align:'left', color:'#333'});

// ---------- Panel E ----------
const E_LEFTS = [68, 223], E_TOPS = [440, 498], E_HS = [52, 51];
const eTables = [[eVariantActive, eNoVariantActive], [eVariantNonActive, eNoVariantNonActive]];
for (let r = 0; r < 2; r++) for (let c = 0; c < 2; c++) {
  const gi = addGrid({left:E_LEFTS[c], top:E_TOPS[r], width:143, height:E_HS[r]}, true);
  xAxis.push({gridIndex:gi, type:'value', min:0, max:100, interval:25, axisLine:NOLINE,
    axisTick:tick(r === 1), axisLabel:label(9, r === 1), splitLine:NOSPLIT});
  yAxis.push({gridIndex:gi, type:'category', data:eDARs, inverse:true, axisLine:NOLINE,
    axisTick:tick(c === 0, {alignWithLabel:true}), axisLabel:label(8.8, c === 0, {color:'#333'}), splitLine:NOSPLIT});
  const table = eTables[r][c];
  eFeatures.forEach(function (f, k) {
    series.push({type:'bar', name:f, xAxisIndex:gi, yAxisIndex:gi, stack:'E' + gi, barWidth:'88%', silent:true, z:2,
      data:table.map(function (row) { return row[k]; }),
      itemStyle:{color:E_COLORS[k], borderColor:'#5a5a5a', borderWidth:0.4},
      label:{show:true, position:'inside', fontSize:7, color:'#1a1a1a', fontFamily:FF,
        formatter:function (p) { return p.value >= 10 ? String(p.value) : ''; }}});
  });
}
T('Variant', 139, 432, {bold:true, size:8.5});
T('No variant', 294, 432, {bold:true, size:8.5});
T('Active', 373, 466, {bold:true, size:8.3, rot:-Math.PI / 2});
T('Non-active', 373, 524, {bold:true, size:8.3, rot:-Math.PI / 2});
T('Percentage (%)', 217, 569, {bold:true, size:10.5});
T('Feature', 62, 597, {bold:true, size:10.5, align:'left'});
const E_LEG_X = [62, 167, 240], E_LEG_Y = [614, 633, 651];
eFeatures.forEach(function (f, k) {
  const col = Math.floor(k / 3), row = k % 3;
  Rect(E_LEG_X[col], E_LEG_Y[row] - 6, 12, 12, E_COLORS[k], '#8a8a8a', 0.5);
  T(f, E_LEG_X[col] + 18, E_LEG_Y[row], {size:8.7, align:'left', color:'#333'});
});

// ---------- Panel F ----------
const gF = addGrid({left:418, top:422, width:341, height:192}, true);
const F_XT = [0, 200, 400, 600, 800, 1000], F_YT = [0, 0.25, 0.5, 0.75];
xAxis.push({gridIndex:gF, type:'value', min:-48, max:1057, splitNumber:5, axisLine:NOLINE,
  axisTick:tick(true, {customValues:F_XT}),
  axisLabel:label(7.5, true, {customValues:F_XT, formatter:function (v) { return v === 1000 ? '1Mb' : v + 'kb'; }}),
  splitLine:SPLIT, minorTick:{show:false, splitNumber:2}, minorSplitLine:MINOR});
yAxis.push({gridIndex:gF, type:'value', min:-0.25, max:0.816, interval:0.25, axisLine:NOLINE,
  axisTick:tick(true, {customValues:F_YT}),
  axisLabel:label(7.5, true, {customValues:F_YT, formatter:function (v) { return v.toFixed(2); }}),
  splitLine:SPLIT, minorTick:{show:false, splitNumber:2}, minorSplitLine:MINOR});
hLine(gF, 0, 0, {stroke:'#999', lineWidth:0.7, lineDash:[3,3]}, 1);
const fSets = [[fVariantVariant, RED], [fVariantNoVariant, BLUE], [fNoVariantNoVariant, GREEN]];
fSets.forEach(function (s) {
  series.push({type:'line', xAxisIndex:gF, yAxisIndex:gF, data:s[0].map(function (v, i) { return [fDistanceKb[i], v]; }),
    showSymbol:false, silent:true, z:2, lineStyle:{color:s[1], width:4.5, opacity:0.2}});
});
fSets.forEach(function (s, k) {
  series.push({type:'line', name:fPairs[k], xAxisIndex:gF, yAxisIndex:gF, data:s[0].map(function (v, i) { return [fDistanceKb[i], v]; }),
    showSymbol:false, silent:true, z:3, lineStyle:{color:s[1], width:1.3}});
});
T("Running mean of Spearman's Rho", 388, 518, {bold:true, size:9, rot:Math.PI / 2});
T('Distance Between DARs', 588, 633, {bold:true, size:9.5});
T('DAR Pair', 433, 658, {bold:true, size:9.5, align:'left'});
[[RED, 485, 500, '#f7c6c6'], [BLUE, 566, 578, '#c6d9ec'], [GREEN, 653, 663, '#cfeacd']].forEach(function (l, k) {
  Rect(l[1], 654, 9, 8, l[3]);
  L(l[1], 658, l[1] + 9, 658, l[0], 1.3);
  T(fPairs[k], l[2], 658, {size:7, align:'left', color:'#333'});
});

// ---------- Panel letters ----------
T('A', 9, 10, {bold:true, size:16, color:'#000'});
T('B', 196, 10, {bold:true, size:16, color:'#000'});
T('C', 12, 198, {bold:true, size:16, color:'#000'});
T('D', 417, 10, {bold:true, size:16, color:'#000'});
T('E', 12, 411, {bold:true, size:16, color:'#000'});
T('F', 392, 411, {bold:true, size:16, color:'#000'});

const chart = echarts.init(document.getElementById('chart'), null, {renderer:'svg', width:759, height:663});
chart.setOption({
  animation:false,
  backgroundColor:'#ffffff',
  textStyle:{fontFamily:FF},
  grid:grid, xAxis:xAxis, yAxis:yAxis, series:series,
  graphic:{elements:gfx}
});
</script>
</body>
</html>
